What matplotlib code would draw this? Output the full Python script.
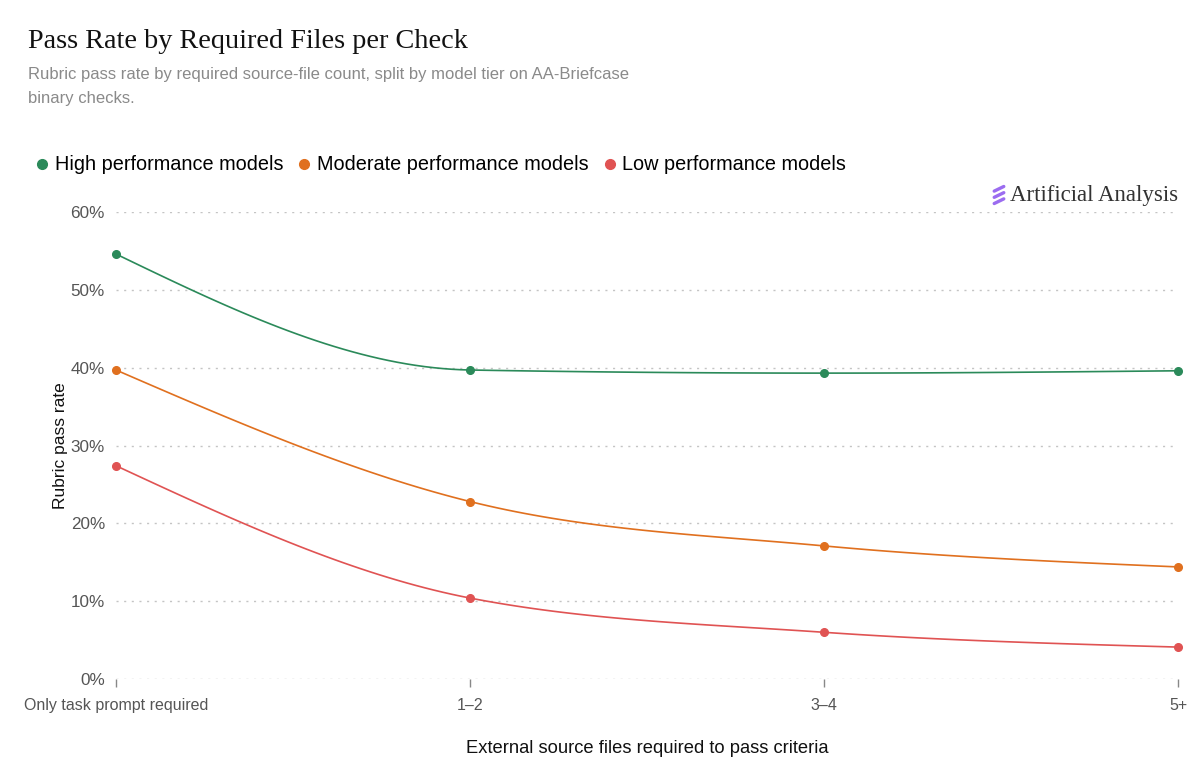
import numpy as np
import matplotlib
matplotlib.use("Agg")
import matplotlib.pyplot as plt
from matplotlib.lines import Line2D

# Datos
categorias = ["Only task prompt required", "1\u20132", "3\u20134", "5+"]
high_perf = [54.6, 39.7, 39.3, 39.6]
moderate_perf = [39.7, 22.8, 17.1, 14.4]
low_perf = [27.4, 10.4, 6.0, 4.1]
y_ticks = [0, 10, 20, 30, 40, 50, 60]

series = [
    ("High performance models", high_perf, "#2b8a5a"),
    ("Moderate performance models", moderate_perf, "#e0701f"),
    ("Low performance models", low_perf, "#e05353"),
]

SANS = "Liberation Sans"
SERIF = "Liberation Serif"


def monotone_x(x, y, n=40):
    # curva monotona tipo d3.curveMonotoneX (solo para dibujar)
    x = np.asarray(x, float)
    y = np.asarray(y, float)
    h = np.diff(x)
    s = np.diff(y) / h
    t = np.zeros(len(x))
    for i in range(1, len(x) - 1):
        p = (s[i - 1] * h[i] + s[i] * h[i - 1]) / (h[i - 1] + h[i])
        t[i] = (np.sign(s[i - 1]) + np.sign(s[i])) * min(abs(s[i - 1]), abs(s[i]), 0.5 * abs(p))
    t[0] = (3 * s[0] - t[1]) / 2
    t[-1] = (3 * s[-1] - t[-2]) / 2
    xs, ys = [], []
    u = np.linspace(0, 1, n)
    for i in range(len(x) - 1):
        dx = h[i] / 3
        p0 = (x[i], y[i])
        p1 = (x[i] + dx, y[i] + dx * t[i])
        p2 = (x[i + 1] - dx, y[i + 1] - dx * t[i + 1])
        p3 = (x[i + 1], y[i + 1])
        b0 = (1 - u) ** 3
        b1 = 3 * (1 - u) ** 2 * u
        b2 = 3 * (1 - u) * u ** 2
        b3 = u ** 3
        xs.append(b0 * p0[0] + b1 * p1[0] + b2 * p2[0] + b3 * p3[0])
        ys.append(b0 * p0[1] + b1 * p1[1] + b2 * p2[1] + b3 * p3[1])
    return np.concatenate(xs), np.concatenate(ys)


fig = plt.figure(figsize=(11.99, 7.75), dpi=100)
ax = fig.add_axes([116 / 1199, 1 - 679 / 775, (1178 - 116) / 1199, (679 - 212) / 775])

x = np.arange(len(categorias))
for nombre, valores, color in series:
    cx, cy = monotone_x(x, valores)
    ax.plot(cx, cy, color=color, linewidth=1.2, clip_on=False, zorder=3)
    ax.plot(x, valores, "o", color=color, markersize=5.5, clip_on=False, zorder=4)

ax.set_xlim(0, len(categorias) - 1)
ax.set_ylim(0, 60)
ax.set_yticks(y_ticks)
ax.set_yticklabels([f"{v}%" for v in y_ticks])
ax.set_xticks(x)
ax.set_xticklabels(categorias)

for v in y_ticks:
    ax.axhline(v, color="#c4c4c4", linewidth=1.0, linestyle=(0, (1.5, 4)), zorder=1)

for s in ax.spines.values():
    s.set_visible(False)
ax.tick_params(axis="y", length=0, pad=8, labelsize=12.3, labelcolor="#555555")
ax.tick_params(axis="x", length=6, width=1, color="#888888", pad=8, labelsize=11.5,
               labelcolor="#555555", direction="out")
for lbl in ax.get_xticklabels() + ax.get_yticklabels():
    lbl.set_fontfamily(SANS)

ax.set_ylabel("Rubric pass rate", fontsize=12.5, family=SANS, color="#111111")
ax.yaxis.set_label_coords(-0.045, 0.5)
ax.set_xlabel("External source files required to pass criteria", fontsize=13.2, family=SANS,
              color="#111111", labelpad=19)

# Título y subtítulo
fig.text(28 / 1199, 1 - 42 / 775, "Pass Rate by Required Files per Check", fontsize=20.3,
         family=SERIF, color="#111111", va="center", ha="left")
fig.text(28 / 1199, 1 - 75 / 775, "Rubric pass rate by required source-file count, split by model tier on AA-Briefcase",
         fontsize=12, family=SANS, color="#8a8a8a", va="center", ha="left")
fig.text(28 / 1199, 1 - 98 / 775, "binary checks.", fontsize=12, family=SANS, color="#8a8a8a",
         va="center", ha="left")

# Leyenda
handles = [Line2D([], [], marker="o", linestyle="", color=c, markersize=7) for _, _, c in series]
fig.legend(handles, [n for n, _, _ in series], loc="center left",
           bbox_to_anchor=(24 / 1199, 1 - 165 / 775), ncol=3, frameon=False,
           prop={"family": SANS, "size": 14.3}, handletextpad=0.15, columnspacing=0.55,
           handlelength=1.0, borderaxespad=0)

# Logo
fig.text(1178 / 1199, 1 - 196 / 775, "Artificial Analysis", fontsize=16.5, family=SERIF,
         color="#333333", ha="right", va="center")
lx, ly = 999 / 1199, 1 - 195 / 775
for dy in (-0.008, 0.0, 0.008):
    fig.add_artist(Line2D([lx - 0.004, lx + 0.004], [ly + dy - 0.003, ly + dy + 0.003],
                          color="#9b6cf0", linewidth=2.4, solid_capstyle="round"))

fig.savefig("out.png", dpi=100, facecolor="white")
